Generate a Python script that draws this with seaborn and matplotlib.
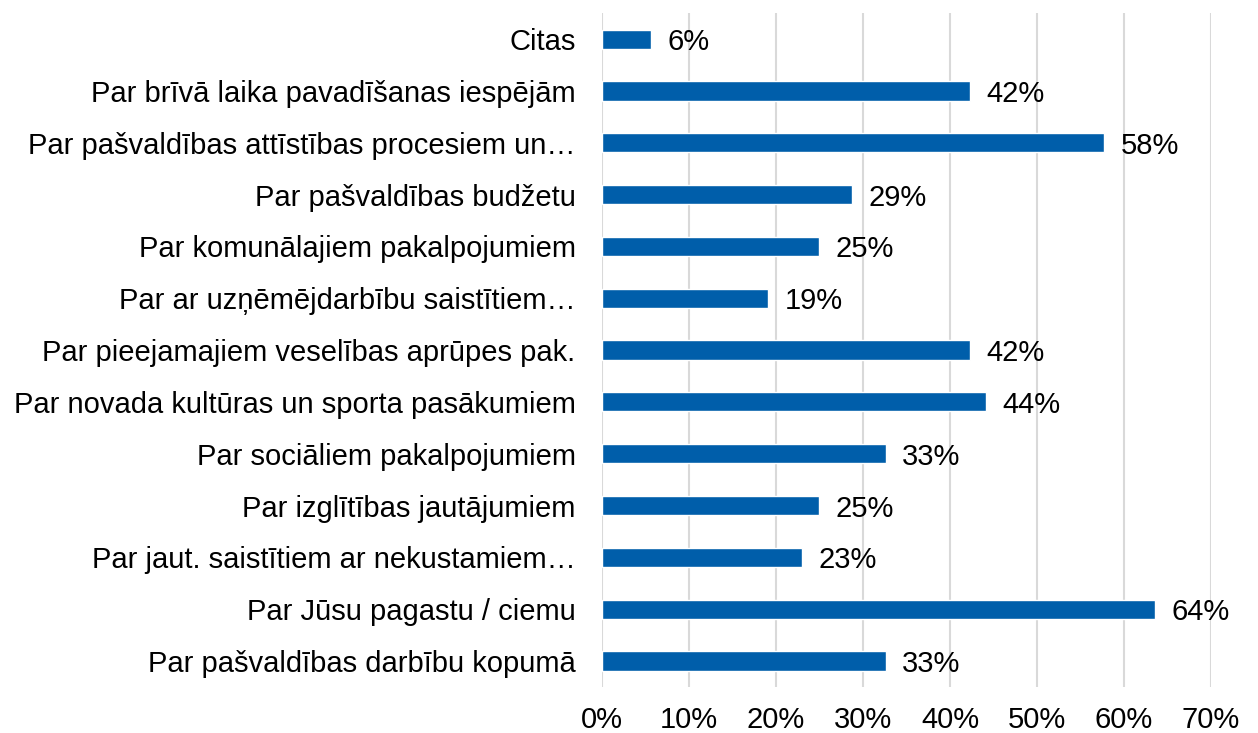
#!/usr/bin/env python3
"""
Horizontal bar chart: topics respondents want information about.
"""
import seaborn as sns
import matplotlib.pyplot as plt
import pandas as pd

topics = [
    "Citas",
    "Par brīvā laika pavadīšanas iespējām",
    "Par pašvaldības attīstības procesiem un…",
    "Par pašvaldības budžetu",
    "Par komunālajiem pakalpojumiem",
    "Par ar uzņēmējdarbību saistītiem…",
    "Par pieejamajiem veselības aprūpes pak.",
    "Par novada kultūras un sporta pasākumiem",
    "Par sociāliem pakalpojumiem",
    "Par izglītības jautājumiem",
    "Par jaut. saistītiem ar nekustamiem…",
    "Par Jūsu pagastu / ciemu",
    "Par pašvaldības darbību kopumā",
]
shares = [5.6, 42.3, 57.7, 28.7, 24.9, 19.1, 42.3, 44.1, 32.6, 24.9, 23.0, 63.6, 32.6]
x_ticks = [0, 10, 20, 30, 40, 50, 60, 70]

BAR_COLOR = "#005EAA"
FS = 21

sns.set_theme(style="white")
plt.rcParams["font.family"] = ["Liberation Sans", "DejaVu Sans"]

df = pd.DataFrame({"topic": topics, "share": shares})

fig = plt.figure(figsize=(12.58, 7.33), dpi=100)
ax = fig.add_axes([0.4785, 0.0628, 0.9626 - 0.4785, 0.982 - 0.0628])
sns.barplot(data=df, x="share", y="topic", orient="h", color=BAR_COLOR,
            width=0.37, saturation=1, ax=ax)

labels = ax.bar_label(ax.containers[0], labels=[f"{round(v)}%" for v in shares],
                      padding=12, fontsize=FS, color="black")
for t in labels:
    t.set_va("center_baseline")

ax.set_xlim(0, 70)
ax.set_xticks(x_ticks)
ax.set_xticklabels([f"{t}%" for t in x_ticks])
ax.set_xlabel("")
ax.set_ylabel("")
ax.xaxis.grid(True, color="#D9D9D9", linewidth=1.5)
ax.yaxis.grid(False)
ax.set_axisbelow(True)
for s in ax.spines.values():
    s.set_visible(False)
ax.tick_params(axis="x", length=0, pad=14, labelsize=FS, colors="black")
ax.tick_params(axis="y", length=0, pad=19, labelsize=FS, colors="black")

fig.savefig("out.png", dpi=100)
